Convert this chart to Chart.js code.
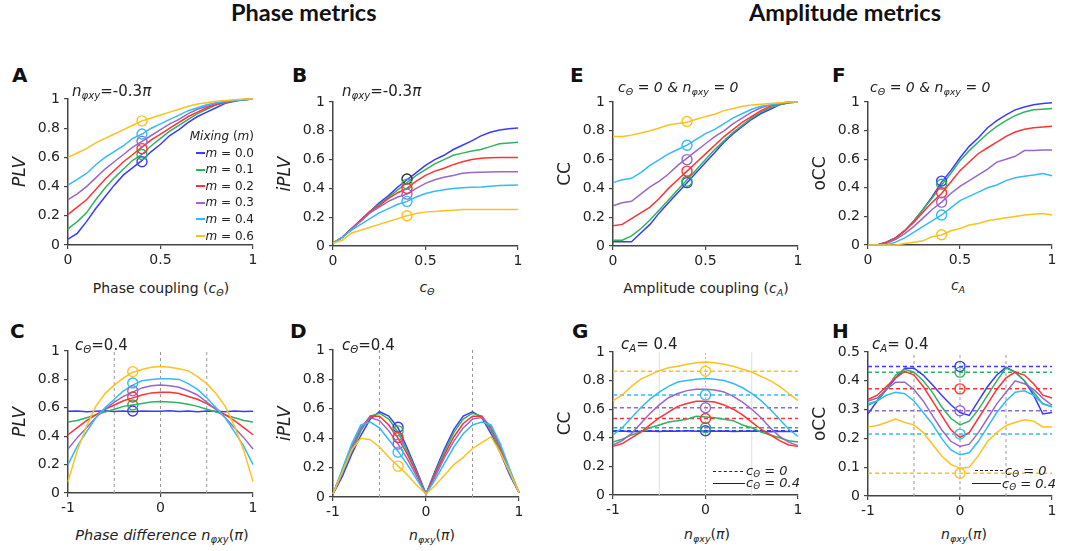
<!DOCTYPE html>
<html><head><meta charset="utf-8">
<script src="https://cdn.jsdelivr.net/npm/chart.js@4.4.1/dist/chart.umd.min.js"></script>
<style>
html,body{margin:0;padding:0;background:#fff;width:1073px;height:551px;overflow:hidden;font-family:"DejaVu Sans",sans-serif;color:#222;}
.panel{position:absolute;}
.panel canvas{display:block;}
.txt{position:absolute;white-space:nowrap;line-height:1;}
.title{font-family:Lato,"Open Sans",sans-serif;font-weight:bold;font-size:23.5px;color:#111;}
.letter{font-weight:bold;font-size:20px;color:#111;}
.ann{font-size:14px;}
.ann.big{font-size:15px;}
.xt{font-size:14px;text-align:center;width:300px;}
i{font-style:italic;}
sub{font-size:0.68em;vertical-align:-0.28em;line-height:0;}
.leg{position:absolute;left:160px;top:128px;width:94px;text-align:right;font-size:12px;line-height:16.6px;}
.leg span.ln{display:inline-block;width:9px;height:0;border-top:2px solid;vertical-align:middle;margin-right:1px;}
.sw{position:absolute;height:0;border-top:1.5px solid #222;}
.sw.d{border-top:1.5px dashed #222;}
.lt{position:absolute;white-space:nowrap;line-height:1;font-size:13px;font-style:italic;}
</style>
</head><body>

<div class="txt title" style="left:231px;top:1px;">Phase metrics</div>
<div class="txt title" style="left:749px;top:1px;">Amplitude metrics</div>

<div class="txt letter" style="left:12px;top:65px;">A</div>
<div class="txt letter" style="left:292px;top:65px;">B</div>
<div class="txt letter" style="left:570px;top:65px;">E</div>
<div class="txt letter" style="left:832px;top:65px;">F</div>
<div class="txt letter" style="left:10px;top:321px;">C</div>
<div class="txt letter" style="left:290px;top:321px;">D</div>
<div class="txt letter" style="left:572px;top:321px;">G</div>
<div class="txt letter" style="left:832px;top:321px;">H</div>

<div class="panel" style="left:10px;top:85px;"><canvas id="cA" width="257" height="186"></canvas></div>
<div class="panel" style="left:275px;top:88px;"><canvas id="cB" width="257" height="184"></canvas></div>
<div class="panel" style="left:555px;top:88px;"><canvas id="cE" width="257" height="184"></canvas></div>
<div class="panel" style="left:810px;top:88px;"><canvas id="cF" width="256" height="183"></canvas></div>
<div class="panel" style="left:10px;top:337px;"><canvas id="cC" width="257" height="182"></canvas></div>
<div class="panel" style="left:275px;top:336px;"><canvas id="cD" width="258" height="187"></canvas></div>
<div class="panel" style="left:555px;top:338px;"><canvas id="cG" width="257" height="183"></canvas></div>
<div class="panel" style="left:810px;top:338px;"><canvas id="cH" width="256" height="184"></canvas></div>

<div class="txt ann big" style="left:72px;top:84px;"><i>n</i><sub><i>φxy</i></sub>=-0.3<i>π</i></div>
<div class="txt ann big" style="left:342px;top:84px;"><i>n</i><sub><i>φxy</i></sub>=-0.3<i>π</i></div>
<div class="txt ann" style="left:618px;top:80px;"><i>c</i><sub><i>Θ</i></sub><i> = 0 &amp; n</i><sub><i>φxy</i></sub><i> = 0</i></div>
<div class="txt ann" style="left:870px;top:80px;"><i>c</i><sub><i>Θ</i></sub><i> = 0 &amp; n</i><sub><i>φxy</i></sub><i> = 0</i></div>
<div class="txt ann big" style="left:75px;top:338px;"><i>c</i><sub><i>Θ</i></sub>=0.4</div>
<div class="txt ann big" style="left:342px;top:338px;"><i>c</i><sub><i>Θ</i></sub>=0.4</div>
<div class="txt ann big" style="left:621px;top:337px;"><i>c</i><sub><i>A</i></sub>= 0.4</div>
<div class="txt ann big" style="left:872px;top:337px;"><i>c</i><sub><i>A</i></sub>= 0.4</div>

<div class="txt xt" style="left:11px;top:281px;">Phase coupling (<i>c</i><sub><i>Θ</i></sub>)</div>
<div class="txt xt" style="left:277px;top:280px;"><i>c</i><sub><i>Θ</i></sub></div>
<div class="txt xt" style="left:556px;top:281px;">Amplitude coupling (<i>c</i><sub><i>A</i></sub>)</div>
<div class="txt xt" style="left:808px;top:278px;"><i>c</i><sub><i>A</i></sub></div>
<div class="txt xt" style="left:12px;top:528px;font-size:14.5px;"><i>Phase difference n</i><sub><i>φxy</i></sub>(<i>π</i>)</div>
<div class="txt xt" style="left:282px;top:528px;"><i>n</i><sub><i>φxy</i></sub>(<i>π</i>)</div>
<div class="txt xt" style="left:557px;top:527px;"><i>n</i><sub><i>φxy</i></sub>(<i>π</i>)</div>
<div class="txt xt" style="left:814px;top:527px;"><i>n</i><sub><i>φxy</i></sub>(<i>π</i>)</div>

<div class="leg" id="legA"></div>

<div class="sw d" style="left:713px;top:471px;width:30px;"></div>
<div class="lt" style="left:746px;top:464px;">c<sub>Θ</sub> = 0</div>
<div class="sw" style="left:713px;top:483px;width:32px;"></div>
<div class="lt" style="left:746px;top:476px;">c<sub>Θ</sub> = 0.4</div>

<div class="sw d" style="left:975px;top:470px;width:28px;"></div>
<div class="lt" style="left:1005px;top:464px;">c<sub>Θ</sub> = 0</div>
<div class="sw" style="left:972px;top:483px;width:29px;"></div>
<div class="lt" style="left:1002px;top:477px;">c<sub>Θ</sub> = 0.4</div>

<script>
// ---------- data ----------
const mixLabels = ['m = 0.0','m = 0.1','m = 0.2','m = 0.3','m = 0.4','m = 0.6'];
const COLORS = ['#3b3bff','#2fb35f','#ff3333','#9a66c8','#33bbf5','#ffc020'];

const xCoupling = [0,0.05,0.1,0.15,0.2,0.25,0.3,0.35,0.4,0.45,0.5,0.55,0.6,0.65,0.7,0.75,0.8,0.85,0.9,0.95,1];
const xPhase = [-1,-0.9,-0.8,-0.7,-0.6,-0.5,-0.4,-0.3,-0.2,-0.1,0,0.1,0.2,0.3,0.4,0.5,0.6,0.7,0.8,0.9,1];

const xTicks01 = [0,0.5,1];
const xTicksPhase = [-1,0,1];
const yTicks01 = [0,0.2,0.4,0.6,0.8,1];
const yTicksH = [0,0.1,0.2,0.3,0.4,0.5];

// A: PLV vs phase coupling
const A_m00 = [0.04,0.08,0.16,0.25,0.33,0.41,0.48,0.53,0.58,0.64,0.69,0.75,0.79,0.84,0.88,0.91,0.94,0.97,0.985,0.995,1];
const A_m01 = [0.11,0.16,0.22,0.31,0.39,0.46,0.52,0.58,0.62,0.68,0.73,0.78,0.82,0.86,0.90,0.93,0.96,0.975,0.99,0.995,1];
const A_m02 = [0.21,0.26,0.31,0.38,0.45,0.51,0.57,0.62,0.67,0.72,0.76,0.80,0.84,0.88,0.91,0.94,0.96,0.98,0.99,0.995,1];
const A_m03 = [0.31,0.35,0.40,0.46,0.52,0.57,0.62,0.67,0.71,0.75,0.79,0.83,0.86,0.90,0.93,0.95,0.97,0.98,0.99,0.995,1];
const A_m04 = [0.41,0.45,0.49,0.55,0.60,0.64,0.68,0.73,0.76,0.80,0.83,0.86,0.89,0.92,0.94,0.96,0.975,0.985,0.99,0.995,1];
const A_m06 = [0.60,0.63,0.66,0.70,0.73,0.76,0.79,0.82,0.85,0.87,0.89,0.91,0.93,0.95,0.965,0.975,0.985,0.99,0.995,1,1];
const A_markX = 0.4;
const A_markY = [0.57,0.62,0.66,0.71,0.76,0.85];

// B: iPLV vs phase coupling
const B_m00 = [0.02,0.06,0.12,0.18,0.24,0.30,0.35,0.41,0.46,0.51,0.56,0.60,0.63,0.67,0.70,0.73,0.765,0.79,0.805,0.815,0.82];
const B_m01 = [0.02,0.06,0.12,0.18,0.24,0.29,0.34,0.39,0.44,0.49,0.53,0.57,0.60,0.63,0.645,0.66,0.67,0.69,0.71,0.715,0.72];
const B_m02 = [0.02,0.06,0.12,0.18,0.24,0.28,0.33,0.37,0.40,0.45,0.49,0.52,0.54,0.565,0.585,0.60,0.61,0.612,0.614,0.615,0.615];
const B_m03 = [0.02,0.06,0.12,0.17,0.23,0.27,0.31,0.34,0.36,0.40,0.435,0.46,0.477,0.49,0.505,0.51,0.512,0.514,0.515,0.516,0.516];
const B_m04 = [0.02,0.06,0.11,0.15,0.19,0.23,0.26,0.29,0.31,0.34,0.365,0.38,0.39,0.40,0.405,0.408,0.41,0.415,0.42,0.422,0.423];
const B_m06 = [0.02,0.04,0.09,0.11,0.13,0.15,0.17,0.19,0.21,0.225,0.237,0.24,0.244,0.248,0.253,0.253,0.253,0.253,0.253,0.253,0.253];
const B_markX = 0.4;
const B_markY = [0.465,0.43,0.40,0.36,0.31,0.21];

// E: CC vs amplitude coupling
const E_m00 = [0.03,0.03,0.03,0.09,0.15,0.23,0.30,0.37,0.44,0.51,0.58,0.65,0.72,0.78,0.83,0.88,0.92,0.95,0.98,0.995,1];
const E_m01 = [0.04,0.04,0.07,0.12,0.18,0.25,0.32,0.39,0.46,0.53,0.60,0.67,0.73,0.79,0.84,0.89,0.93,0.96,0.98,0.995,1];
const E_m02 = [0.14,0.15,0.19,0.23,0.27,0.33,0.40,0.46,0.52,0.58,0.64,0.70,0.76,0.81,0.86,0.90,0.94,0.97,0.99,1,1];
const E_m03 = [0.28,0.30,0.31,0.36,0.41,0.45,0.50,0.56,0.61,0.66,0.71,0.76,0.80,0.85,0.89,0.93,0.96,0.98,0.99,1,1];
const E_m04 = [0.44,0.46,0.47,0.51,0.56,0.60,0.64,0.67,0.70,0.74,0.78,0.81,0.85,0.89,0.92,0.95,0.97,0.98,0.99,1,1];
const E_m06 = [0.76,0.76,0.77,0.785,0.80,0.82,0.84,0.85,0.86,0.88,0.90,0.915,0.94,0.955,0.97,0.98,0.985,0.99,0.995,1,1];
const E_markX = 0.4;
const E_markY = [0.44,0.45,0.52,0.60,0.70,0.865];

// F: oCC vs amplitude coupling
const F_m00 = [0,0,0.02,0.05,0.10,0.17,0.25,0.34,0.44,0.52,0.61,0.69,0.75,0.82,0.87,0.91,0.945,0.965,0.98,0.99,0.995];
const F_m01 = [0,0,0.02,0.05,0.10,0.17,0.25,0.33,0.42,0.50,0.59,0.66,0.72,0.78,0.83,0.87,0.905,0.93,0.945,0.95,0.955];
const F_m02 = [0,0,0.02,0.05,0.10,0.16,0.23,0.30,0.36,0.44,0.52,0.58,0.64,0.68,0.72,0.76,0.79,0.81,0.82,0.825,0.83];
const F_m03 = [0,0,0.01,0.04,0.08,0.13,0.19,0.25,0.30,0.36,0.41,0.45,0.49,0.53,0.58,0.60,0.62,0.66,0.66,0.665,0.665];
const F_m04 = [0,0,0,0.02,0.05,0.09,0.13,0.17,0.21,0.26,0.31,0.34,0.37,0.40,0.42,0.45,0.47,0.48,0.49,0.50,0.485];
const F_m06 = [0,0,0,0,0.01,0.02,0.03,0.06,0.07,0.10,0.115,0.14,0.15,0.17,0.18,0.19,0.20,0.21,0.215,0.22,0.21];
const F_markX = 0.4;
const F_markY = [0.447,0.425,0.365,0.30,0.21,0.072];

// C: PLV vs phase difference
const C_m00 = [0.575,0.578,0.572,0.576,0.58,0.574,0.577,0.573,0.578,0.575,0.576,0.579,0.574,0.577,0.572,0.578,0.575,0.573,0.577,0.574,0.576];
const C_m01 = [0.50,0.51,0.53,0.55,0.57,0.59,0.61,0.62,0.63,0.64,0.645,0.64,0.635,0.625,0.61,0.59,0.57,0.55,0.53,0.51,0.50];
const C_m02 = [0.41,0.46,0.51,0.55,0.59,0.62,0.65,0.67,0.69,0.705,0.71,0.71,0.70,0.68,0.66,0.63,0.59,0.55,0.51,0.46,0.41];
const C_m03 = [0.31,0.39,0.46,0.53,0.59,0.64,0.68,0.71,0.74,0.755,0.76,0.755,0.745,0.72,0.69,0.64,0.59,0.53,0.46,0.39,0.31];
const C_m04 = [0.20,0.33,0.43,0.53,0.60,0.66,0.72,0.76,0.79,0.80,0.805,0.805,0.80,0.77,0.73,0.67,0.60,0.53,0.43,0.33,0.20];
const C_m06 = [0.08,0.30,0.47,0.61,0.70,0.76,0.81,0.85,0.87,0.885,0.89,0.885,0.875,0.86,0.82,0.77,0.70,0.61,0.47,0.30,0.08];
const C_markX = -0.3;
const C_markY = [0.577,0.62,0.676,0.72,0.775,0.855];
const C_vlines = [-0.5,0,0.5];

// D: iPLV vs phase difference
const D_m00 = [0.02,0.14,0.29,0.42,0.53,0.58,0.55,0.47,0.33,0.18,0.02,0.18,0.33,0.46,0.55,0.58,0.54,0.43,0.30,0.15,0.03];
const D_m01 = [0.02,0.16,0.31,0.45,0.55,0.57,0.53,0.44,0.31,0.17,0.02,0.17,0.31,0.44,0.53,0.57,0.55,0.45,0.31,0.16,0.03];
const D_m02 = [0.02,0.17,0.33,0.47,0.55,0.55,0.49,0.40,0.29,0.16,0.02,0.16,0.29,0.41,0.50,0.55,0.55,0.47,0.33,0.17,0.03];
const D_m03 = [0.02,0.18,0.34,0.47,0.54,0.52,0.45,0.36,0.26,0.14,0.02,0.14,0.27,0.38,0.47,0.53,0.54,0.48,0.34,0.18,0.03];
const D_m04 = [0.02,0.19,0.36,0.49,0.51,0.47,0.39,0.31,0.22,0.12,0.02,0.12,0.23,0.34,0.43,0.49,0.51,0.49,0.36,0.19,0.03];
const D_m06 = [0.02,0.17,0.32,0.40,0.39,0.34,0.27,0.21,0.15,0.08,0.02,0.08,0.15,0.22,0.27,0.33,0.37,0.41,0.30,0.17,0.03];
const D_markX = -0.3;
const D_markY = [0.475,0.45,0.405,0.36,0.305,0.21];
const D_vlines = [-0.5,0.5];

// G: CC vs phase difference (solid: c_theta = 0.4, dashed: c_theta = 0)
const G_m00 = [0.445,0.447,0.443,0.446,0.448,0.444,0.447,0.445,0.449,0.446,0.448,0.445,0.447,0.444,0.446,0.448,0.445,0.443,0.446,0.444,0.445];
const G_m01 = [0.37,0.39,0.42,0.44,0.47,0.49,0.51,0.52,0.53,0.55,0.545,0.54,0.53,0.52,0.49,0.47,0.44,0.42,0.40,0.38,0.37];
const G_m02 = [0.34,0.36,0.40,0.44,0.49,0.54,0.58,0.62,0.64,0.655,0.655,0.65,0.63,0.60,0.56,0.51,0.46,0.42,0.38,0.35,0.34];
const G_m03 = [0.35,0.38,0.43,0.50,0.57,0.63,0.68,0.71,0.73,0.74,0.74,0.735,0.72,0.69,0.65,0.60,0.54,0.47,0.41,0.37,0.345];
const G_m04 = [0.42,0.47,0.54,0.61,0.67,0.72,0.76,0.79,0.80,0.81,0.815,0.81,0.80,0.78,0.75,0.71,0.66,0.60,0.53,0.46,0.41];
const G_m06 = [0.66,0.70,0.76,0.81,0.84,0.87,0.89,0.90,0.915,0.925,0.93,0.925,0.915,0.90,0.88,0.86,0.83,0.80,0.76,0.71,0.66];
const G_base = [0.449,0.47,0.535,0.61,0.70,0.865];
const G_markX = 0;
const G_vlinesLight = [-0.5,0.5];
const G_vlinesDot = [0];

// H: oCC vs phase difference
const H_m00 = [0.285,0.33,0.37,0.41,0.444,0.444,0.42,0.386,0.35,0.317,0.29,0.28,0.33,0.38,0.42,0.447,0.43,0.40,0.35,0.285,0.29];
const H_m01 = [0.315,0.33,0.37,0.42,0.44,0.43,0.40,0.36,0.31,0.27,0.247,0.26,0.30,0.35,0.40,0.445,0.43,0.40,0.36,0.32,0.31];
const H_m02 = [0.335,0.35,0.38,0.41,0.433,0.42,0.38,0.33,0.28,0.23,0.204,0.22,0.27,0.32,0.37,0.41,0.43,0.42,0.39,0.35,0.34];
const H_m03 = [0.33,0.34,0.37,0.395,0.395,0.37,0.33,0.28,0.23,0.19,0.172,0.18,0.22,0.27,0.32,0.36,0.40,0.39,0.37,0.34,0.315];
const H_m04 = [0.32,0.33,0.35,0.36,0.355,0.33,0.29,0.25,0.20,0.16,0.143,0.15,0.19,0.24,0.29,0.33,0.36,0.365,0.35,0.32,0.31];
const H_m06 = [0.24,0.245,0.255,0.267,0.255,0.247,0.22,0.18,0.14,0.11,0.096,0.10,0.14,0.19,0.22,0.245,0.255,0.265,0.26,0.24,0.24];
const H_base = [0.45,0.43,0.372,0.296,0.215,0.079];
const H_markX = 0;
const H_vlines = [-0.5,0,0.5];

// ---------- legend A ----------
(function(){
  const el = document.getElementById('legA');
  let html = '<div><i>Mixing</i> (<i>m</i>)</div>';
  mixLabels.forEach((l,i)=>{
    const parts = l.split(' = ');
    html += '<div><span class="ln" style="border-top-color:'+COLORS[i]+'"></span><i>'+parts[0]+'</i> = '+parts[1]+'</div>';
  });
  el.innerHTML = html;
})();

// ---------- chart builder ----------
const FONT = 'DejaVu Sans';
const YW = 58, XH = 26, PT = 14, PR = 14;
function fmt(v){ return String(+Number(v).toFixed(2)); }

function build(id, cfg){
  const ds = [];
  (cfg.vlines||[]).forEach(v=>{
    ds.push({data:[{x:v.x,y:cfg.ymin},{x:v.x,y:cfg.ymax}], borderColor:v.color, borderWidth:1,
      borderDash:v.dash, pointRadius:0, order:10, clip:false});
  });
  (cfg.hlines||[]).forEach((h,i)=>{
    ds.push({data:[{x:cfg.xmin,y:h},{x:cfg.xmax,y:h}], borderColor:COLORS[i], borderWidth:1.5,
      borderDash:[4,3], pointRadius:0, order:5, clip:false});
  });
  cfg.series.forEach((s,i)=>{
    ds.push({data:cfg.x.map((x,j)=>({x:x,y:s[j]})), borderColor:COLORS[i], borderWidth:1.5,
      pointRadius:0, tension:0, order:2+(5-i)*0.01, clip:false});
  });
  ds.push({data:cfg.markY.map(y=>({x:cfg.markX,y:y})), showLine:false, pointRadius:5,
    pointStyle:'circle', pointBorderColor:cfg.markColors||COLORS, pointBackgroundColor:'rgba(0,0,0,0)',
    pointBorderWidth:1.4, borderColor:'rgba(0,0,0,0)', order:0, clip:false});

  new Chart(document.getElementById(id), {
    type:'line',
    data:{datasets:ds},
    options:{
      responsive:false, animation:false, events:[],
      layout:{padding:{top:PT,right:PR,left:0,bottom:0}},
      plugins:{legend:{display:false}, tooltip:{enabled:false}},
      scales:{
        x:{type:'linear', min:cfg.xmin, max:cfg.xmax,
          afterBuildTicks:a=>{a.ticks = cfg.xticks.map(v=>({value:v}));},
          afterFit:s=>{s.height = XH;},
          grid:{drawOnChartArea:false, drawTicks:true, tickLength:4, color:'#444', lineWidth:1.2},
          border:{display:true, color:'#444', width:1.5},
          ticks:{font:{family:FONT,size:14}, color:'#222', padding:3, maxRotation:0, autoSkip:false, callback:v=>fmt(v)}
        },
        y:{type:'linear', min:cfg.ymin, max:cfg.ymax,
          afterBuildTicks:a=>{a.ticks = cfg.yticks.map(v=>({value:v}));},
          afterFit:s=>{s.width = YW;},
          grid:{drawOnChartArea:false, drawTicks:true, tickLength:4, color:'#444', lineWidth:1.2},
          border:{display:true, color:'#444', width:1.5},
          ticks:{font:{family:FONT,size:14}, color:'#222', padding:4, autoSkip:false, callback:v=>fmt(v)},
          title:{display:true, text:cfg.ytitle, color:'#222', padding:0,
            font:{family:FONT, size:17, style:cfg.yitalic===false?'normal':'italic'}}
        }
      }
    }
  });
}

const grayDash = '#9a9a9a';
build('cA',{x:xCoupling, xmin:0,xmax:1,ymin:0,ymax:1,xticks:xTicks01,yticks:yTicks01,ytitle:'PLV',
  series:[A_m00,A_m01,A_m02,A_m03,A_m04,A_m06], markX:A_markX, markY:A_markY});
build('cB',{x:xCoupling, xmin:0,xmax:1,ymin:0,ymax:1,xticks:xTicks01,yticks:yTicks01,ytitle:'iPLV',
  series:[B_m00,B_m01,B_m02,B_m03,B_m04,B_m06], markX:B_markX, markY:B_markY,
  markColors:['#333333',COLORS[1],COLORS[2],COLORS[3],COLORS[4],COLORS[5]]});
build('cE',{x:xCoupling, xmin:0,xmax:1,ymin:0,ymax:1,xticks:xTicks01,yticks:yTicks01,ytitle:'CC',yitalic:false,
  series:[E_m00,E_m01,E_m02,E_m03,E_m04,E_m06], markX:E_markX, markY:E_markY});
build('cF',{x:xCoupling, xmin:0,xmax:1,ymin:0,ymax:1,xticks:xTicks01,yticks:yTicks01,ytitle:'oCC',yitalic:false,
  series:[F_m00,F_m01,F_m02,F_m03,F_m04,F_m06], markX:F_markX, markY:F_markY});
build('cC',{x:xPhase, xmin:-1,xmax:1,ymin:0,ymax:1,xticks:xTicksPhase,yticks:yTicks01,ytitle:'PLV',
  vlines:C_vlines.map(v=>({x:v,color:grayDash,dash:[3,3]})),
  series:[C_m00,C_m01,C_m02,C_m03,C_m04,C_m06], markX:C_markX, markY:C_markY});
build('cD',{x:xPhase, xmin:-1,xmax:1,ymin:0,ymax:1,xticks:xTicksPhase,yticks:yTicks01,ytitle:'iPLV',
  vlines:D_vlines.map(v=>({x:v,color:grayDash,dash:[3,3]})),
  series:[D_m00,D_m01,D_m02,D_m03,D_m04,D_m06], markX:D_markX, markY:D_markY});
build('cG',{x:xPhase, xmin:-1,xmax:1,ymin:0,ymax:1,xticks:xTicksPhase,yticks:yTicks01,ytitle:'CC',yitalic:false,
  vlines:G_vlinesLight.map(v=>({x:v,color:'#dddddd',dash:[]})).concat(G_vlinesDot.map(v=>({x:v,color:'#bbbbbb',dash:[2,2]}))),
  hlines:G_base,
  series:[G_m00,G_m01,G_m02,G_m03,G_m04,G_m06], markX:G_markX, markY:G_base});
build('cH',{x:xPhase, xmin:-1,xmax:1,ymin:0,ymax:0.5,xticks:xTicksPhase,yticks:yTicksH,ytitle:'oCC',yitalic:false,
  vlines:H_vlines.map(v=>({x:v,color:grayDash,dash:[3,3]})),
  hlines:H_base,
  series:[H_m00,H_m01,H_m02,H_m03,H_m04,H_m06], markX:H_markX, markY:H_base});
</script>
</body></html>
